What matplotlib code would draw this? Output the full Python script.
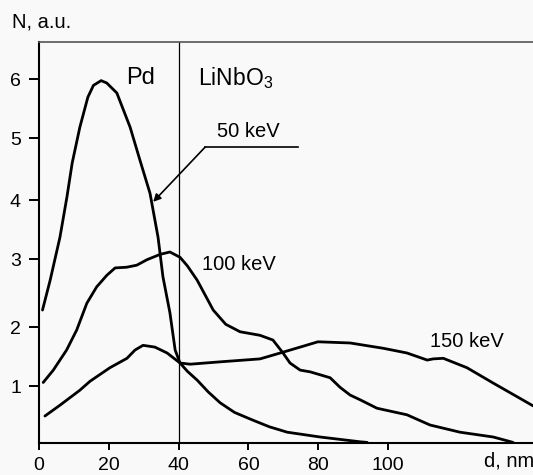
import matplotlib
matplotlib.use("Agg")
import matplotlib.pyplot as plt
import numpy as np

plt.rcParams['font.family'] = ['Liberation Sans', 'DejaVu Sans']
plt.rcParams['mathtext.fontset'] = 'custom'
plt.rcParams['mathtext.rm'] = 'Liberation Sans'
plt.rcParams['mathtext.it'] = 'Liberation Sans'

# depth profiles, d in nm, N in a.u.
d_50 = [1.0, 3.2, 6.0, 8.0, 9.5, 11.7, 14.0, 15.6, 17.8, 19.4, 22.3, 26.1, 28.9, 31.8,
        34.1, 35.5, 37.5, 39.0, 40.4, 42.5, 45.3, 48.5, 51.9, 56.0, 61.3, 66.0, 71.1,
        80.5, 92.0, 94.0]
n_50 = [2.25, 2.69, 3.37, 4.05, 4.60, 5.19, 5.70, 5.90, 5.98, 5.94, 5.77, 5.19, 4.65, 4.11,
        3.37, 2.74, 2.21, 1.61, 1.39, 1.25, 1.10, 0.90, 0.72, 0.56, 0.43, 0.32, 0.23,
        0.15, 0.07, 0.06]

d_100 = [1.2, 4.1, 7.9, 10.8, 13.7, 16.5, 19.4, 21.8, 25.1, 28.0, 30.9, 34.7, 37.5,
         40.4, 42.5, 45.3, 49.9, 53.5, 57.6, 63.3, 67.0, 69.9, 71.9, 74.8, 77.7, 83.4,
         86.2, 89.1, 92.0, 96.8, 105.4, 112.0, 120.6, 130.1, 135.8]
n_100 = [1.06, 1.27, 1.61, 1.95, 2.35, 2.59, 2.76, 2.87, 2.88, 2.91, 2.99, 3.08, 3.12,
         3.03, 2.90, 2.69, 2.25, 2.04, 1.92, 1.86, 1.78, 1.56, 1.39, 1.27, 1.24, 1.14,
         0.98, 0.85, 0.77, 0.63, 0.52, 0.35, 0.23, 0.15, 0.06]

d_150 = [1.7, 6.0, 11.7, 14.6, 20.3, 25.2, 27.5, 29.8, 33.2, 36.7, 40.4, 43.3, 51.9,
         63.3, 69.1, 74.8, 79.9, 89.1, 98.6, 105.4, 111.2, 112.9, 115.8, 122.6,
         130.1, 137.0, 141.5]
n_150 = [0.50, 0.68, 0.93, 1.08, 1.31, 1.47, 1.61, 1.69, 1.66, 1.56, 1.39, 1.37, 1.41,
         1.46, 1.56, 1.66, 1.75, 1.73, 1.64, 1.56, 1.44, 1.46, 1.47, 1.31,
         1.05, 0.82, 0.67]

x_ticks = [0, 20, 40, 60, 80, 100]
y_ticks = [1, 2, 3, 4, 5, 6]

# the hand drawn N axis is not quite uniform
cal_n = [-1, 0, 1, 2, 3, 4, 5, 6, 7, 8]
cal_h = [-60, 0, 60, 119, 187, 246, 307.7, 366.7, 425.7, 484.7]


def fwd(v):
    return np.interp(v, cal_n, cal_h)


def inv(v):
    return np.interp(v, cal_h, cal_n)


bg = '#f9f9f9'
fig = plt.figure(figsize=(5.33, 4.75), dpi=100, facecolor=bg)
ax = fig.add_axes([39 / 533, (475 - 442.7) / 475, (533 - 39) / 533, (442.7 - 41.7) / 475])
ax.set_facecolor(bg)
ax.set_yscale('function', functions=(fwd, inv))

for d, n in [(d_50, n_50), (d_100, n_100), (d_150, n_150)]:
    ax.plot(d, n, color='black', lw=2.0, solid_capstyle='round', solid_joinstyle='round')

ax.axvline(40, color='black', lw=0.9)

ax.set_xlim(0, 141.5)
ax.set_ylim(0.055, 6.64)
ax.set_xticks(x_ticks)
ax.set_yticks(y_ticks)
ax.tick_params(axis='y', length=7, width=1.4, pad=6, labelsize=14)
ax.tick_params(axis='x', length=5, width=1.4, pad=5, labelsize=14)

for s in ['left', 'bottom']:
    ax.spines[s].set_linewidth(1.5)
ax.spines['top'].set_linewidth(1.2)
ax.spines['top'].set_color('#555555')
ax.spines['right'].set_visible(False)

# labels
ax.text(29.2, 5.93, 'Pd', fontsize=17, ha='center', va='baseline')
ax.text(45.6, 5.90, 'LiNbO$_3$', fontsize=16.5, ha='left', va='baseline')
ax.text(51.0, 5.02, '50 keV', fontsize=14.5, ha='left', va='baseline')
ax.text(46.7, 2.84, '100 keV', fontsize=14.5, ha='left', va='baseline')
ax.text(112.0, 1.66, '150 keV', fontsize=14.5, ha='left', va='baseline')

# leader with arrow to the 50 keV curve
ax.plot([47.6, 74.2], [4.86, 4.86], color='black', lw=1.2)
ax.annotate('', xy=(32.7, 3.97), xytext=(47.6, 4.86),
            arrowprops=dict(arrowstyle='-|>', color='black', lw=1.2,
                            mutation_scale=11, shrinkA=0, shrinkB=0))

fig.text(12 / 533, (475 - 27.3) / 475, 'N, a.u.', fontsize=14.5, ha='left', va='baseline')
fig.text(484 / 533, (475 - 466.5) / 475, 'd, nm', fontsize=14.5, ha='left', va='baseline')

plt.savefig('out.png', dpi=100, facecolor=bg)
